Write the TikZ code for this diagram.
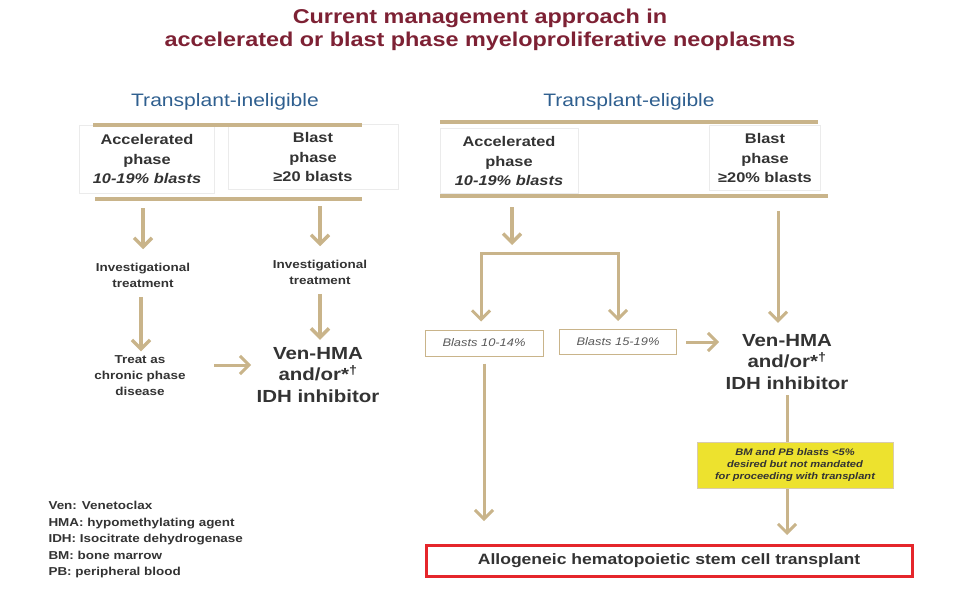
\documentclass[tikz,border=0pt]{standalone}
\usepackage{fontspec}
\setmainfont{Liberation Sans}[FakeStretch=1.17]
\usepackage[HTML]{xcolor}
\usetikzlibrary{positioning, arrows.meta}

\definecolor{tanline}{HTML}{C9B48A}
\definecolor{titlered}{HTML}{7D2134}
\definecolor{headblue}{HTML}{2F5F8F}
\definecolor{bodytext}{HTML}{333333}
\definecolor{hsctred}{HTML}{E5262B}
\definecolor{noteyellow}{HTML}{EDE22E}

\begin{document}
\begin{tikzpicture}[x=1pt,y=-1pt, text=bodytext,
  bar/.style={draw=tanline, line width=4pt},
  flow/.style={draw=tanline, line width=3.5pt, -{Straight Barb[length=9pt,width=18pt]}},
  phasebox/.style={draw=black!8, line width=0.6pt, align=center, inner sep=0pt,
    font=\bfseries\fontsize{14}{19.5}\selectfont},
  stepnode/.style={align=center, font=\bfseries\fontsize{11.5}{16}\selectfont},
  therapy/.style={align=center, font=\bfseries\fontsize{17.5}{21.5}\selectfont},
  blastbox/.style={draw=tanline, line width=1pt, inner sep=0pt, text=black!65,
    font=\itshape\fontsize{11}{13}\selectfont}]
\useasboundingbox (0,0) rectangle (960,589);

% title and headings
\node (title) at (480,30) [align=center, text=titlered,
  font=\bfseries\fontsize{20}{23}\selectfont]
  {Current management approach in\\accelerated or blast phase myeloproliferative neoplasms};
\node (inelig) at (225,102) [text=headblue, font=\fontsize{18}{20}\selectfont] {Transplant-ineligible};
\node (elig) at (629,102) [text=headblue, font=\fontsize{18}{20}\selectfont] {Transplant-eligible};

% phase boxes
\node (accL) at (147,159) [phasebox, minimum width=135pt, minimum height=68pt]
  {Accelerated\\phase\\\textit{10-19\% blasts}};
\node (blastL) at (313,157) [phasebox, minimum width=170pt, minimum height=65pt]
  {Blast\\phase\\≥20 blasts};
\node (accR) at (509,161) [phasebox, minimum width=138pt, minimum height=65pt]
  {Accelerated\\phase\\\textit{10-19\% blasts}};
\node (blastR) at (765,158) [phasebox, minimum width=111pt, minimum height=65pt]
  {Blast\\phase\\≥20\% blasts};

% bars
\draw[bar] (93,125) -- (362,125);
\draw[bar] (95,199) -- (362,199);
\draw[bar] (440,122) -- (818,122);
\draw[bar] (440,196) -- (828,196);

% transplant-ineligible column
\coordinate (accLout) at (143,208);
\coordinate (blastLout) at (320,206);
\node (invL1) at (143,275) [stepnode] {Investigational\\treatment};
\node (invL2) at (320,272) [stepnode] {Investigational\\treatment};
\node (treat) at (140,376) [stepnode] {Treat as\\chronic phase\\disease};
\node (venL) at (318,375) [therapy] {Ven-HMA\\and/or*\textsuperscript{\dag}\\IDH inhibitor};

\draw[flow, shorten >=10pt] (accLout) -- (invL1.north);
\draw[flow, shorten <=6pt, shorten >=1pt] ([xshift=-2pt]invL1.south) -- ([xshift=1pt]treat.north);
\draw[flow, shorten >=10pt] (blastLout) -- (invL2.north);
\draw[flow, shorten <=6pt, shorten >=4pt] (invL2.south) -- ([xshift=2pt]venL.north);
\draw[flow, line width=3pt, shorten <=25pt, shorten >=2pt] ([yshift=11pt]treat.east) -- ([yshift=10pt]venL.west);

% transplant-eligible column
\coordinate (accRout) at (512,207);
\coordinate (split) at (512,253);
\node (b1) at (484,343) [blastbox, minimum width=118pt, minimum height=26pt] {Blasts 10-14\%};
\node (b2) at (618,342) [blastbox, minimum width=117pt, minimum height=25pt] {Blasts 15-19\%};
\node (venR) at (787,362) [therapy] {Ven-HMA\\and/or*\textsuperscript{\dag}\\IDH inhibitor};
\node (hsct) at (669,561) [draw=hsctred, line width=3pt, minimum width=486pt, minimum height=31pt,
  font=\bfseries\fontsize{15}{18}\selectfont] {Allogeneic hematopoietic stem cell transplant};

\draw[flow, shorten >=8pt] (accRout) -- (split);
\draw[flow, line width=3pt, {Straight Barb[length=9pt,width=18pt]}-{Straight Barb[length=9pt,width=18pt]},
  shorten <=8pt, shorten >=8pt] ([xshift=-3pt]b1.north) |- (split) -| (b2.north);
\draw[flow, line width=3pt, shorten <=9pt, shorten >=3pt] (b2.east) -- (b2.east -| venR.west);
\draw[flow, line width=3pt, shorten <=20pt, shorten >=8pt] ([xshift=13pt]blastR.south) -- ([xshift=-9pt]venR.north);
\draw[flow, line width=3pt, shorten <=7pt, shorten >=23pt] (b1.south) -- (b1.south |- hsct.north);
\draw[flow, line width=3pt, shorten <=2pt, shorten >=9pt] (venR.south) -- (venR.south |- hsct.north);

% note over the last arrow
\node (note) at (795,465) [draw=tanline!70, fill=noteyellow, line width=0.8pt, align=center,
  minimum width=196pt, minimum height=46pt, font=\bfseries\itshape\fontsize{9.5}{12}\selectfont]
  {BM and PB blasts <5\%\\desired but not mandated\\for proceeding with transplant};

% legend
\node (legend) at (45,540) [anchor=west, align=left, font=\bfseries\fontsize{11.5}{16.5}\selectfont]
  {Ven: Venetoclax\\HMA: hypomethylating agent\\IDH: Isocitrate dehydrogenase\\BM: bone marrow\\PB: peripheral blood};
\end{tikzpicture}
\end{document}
